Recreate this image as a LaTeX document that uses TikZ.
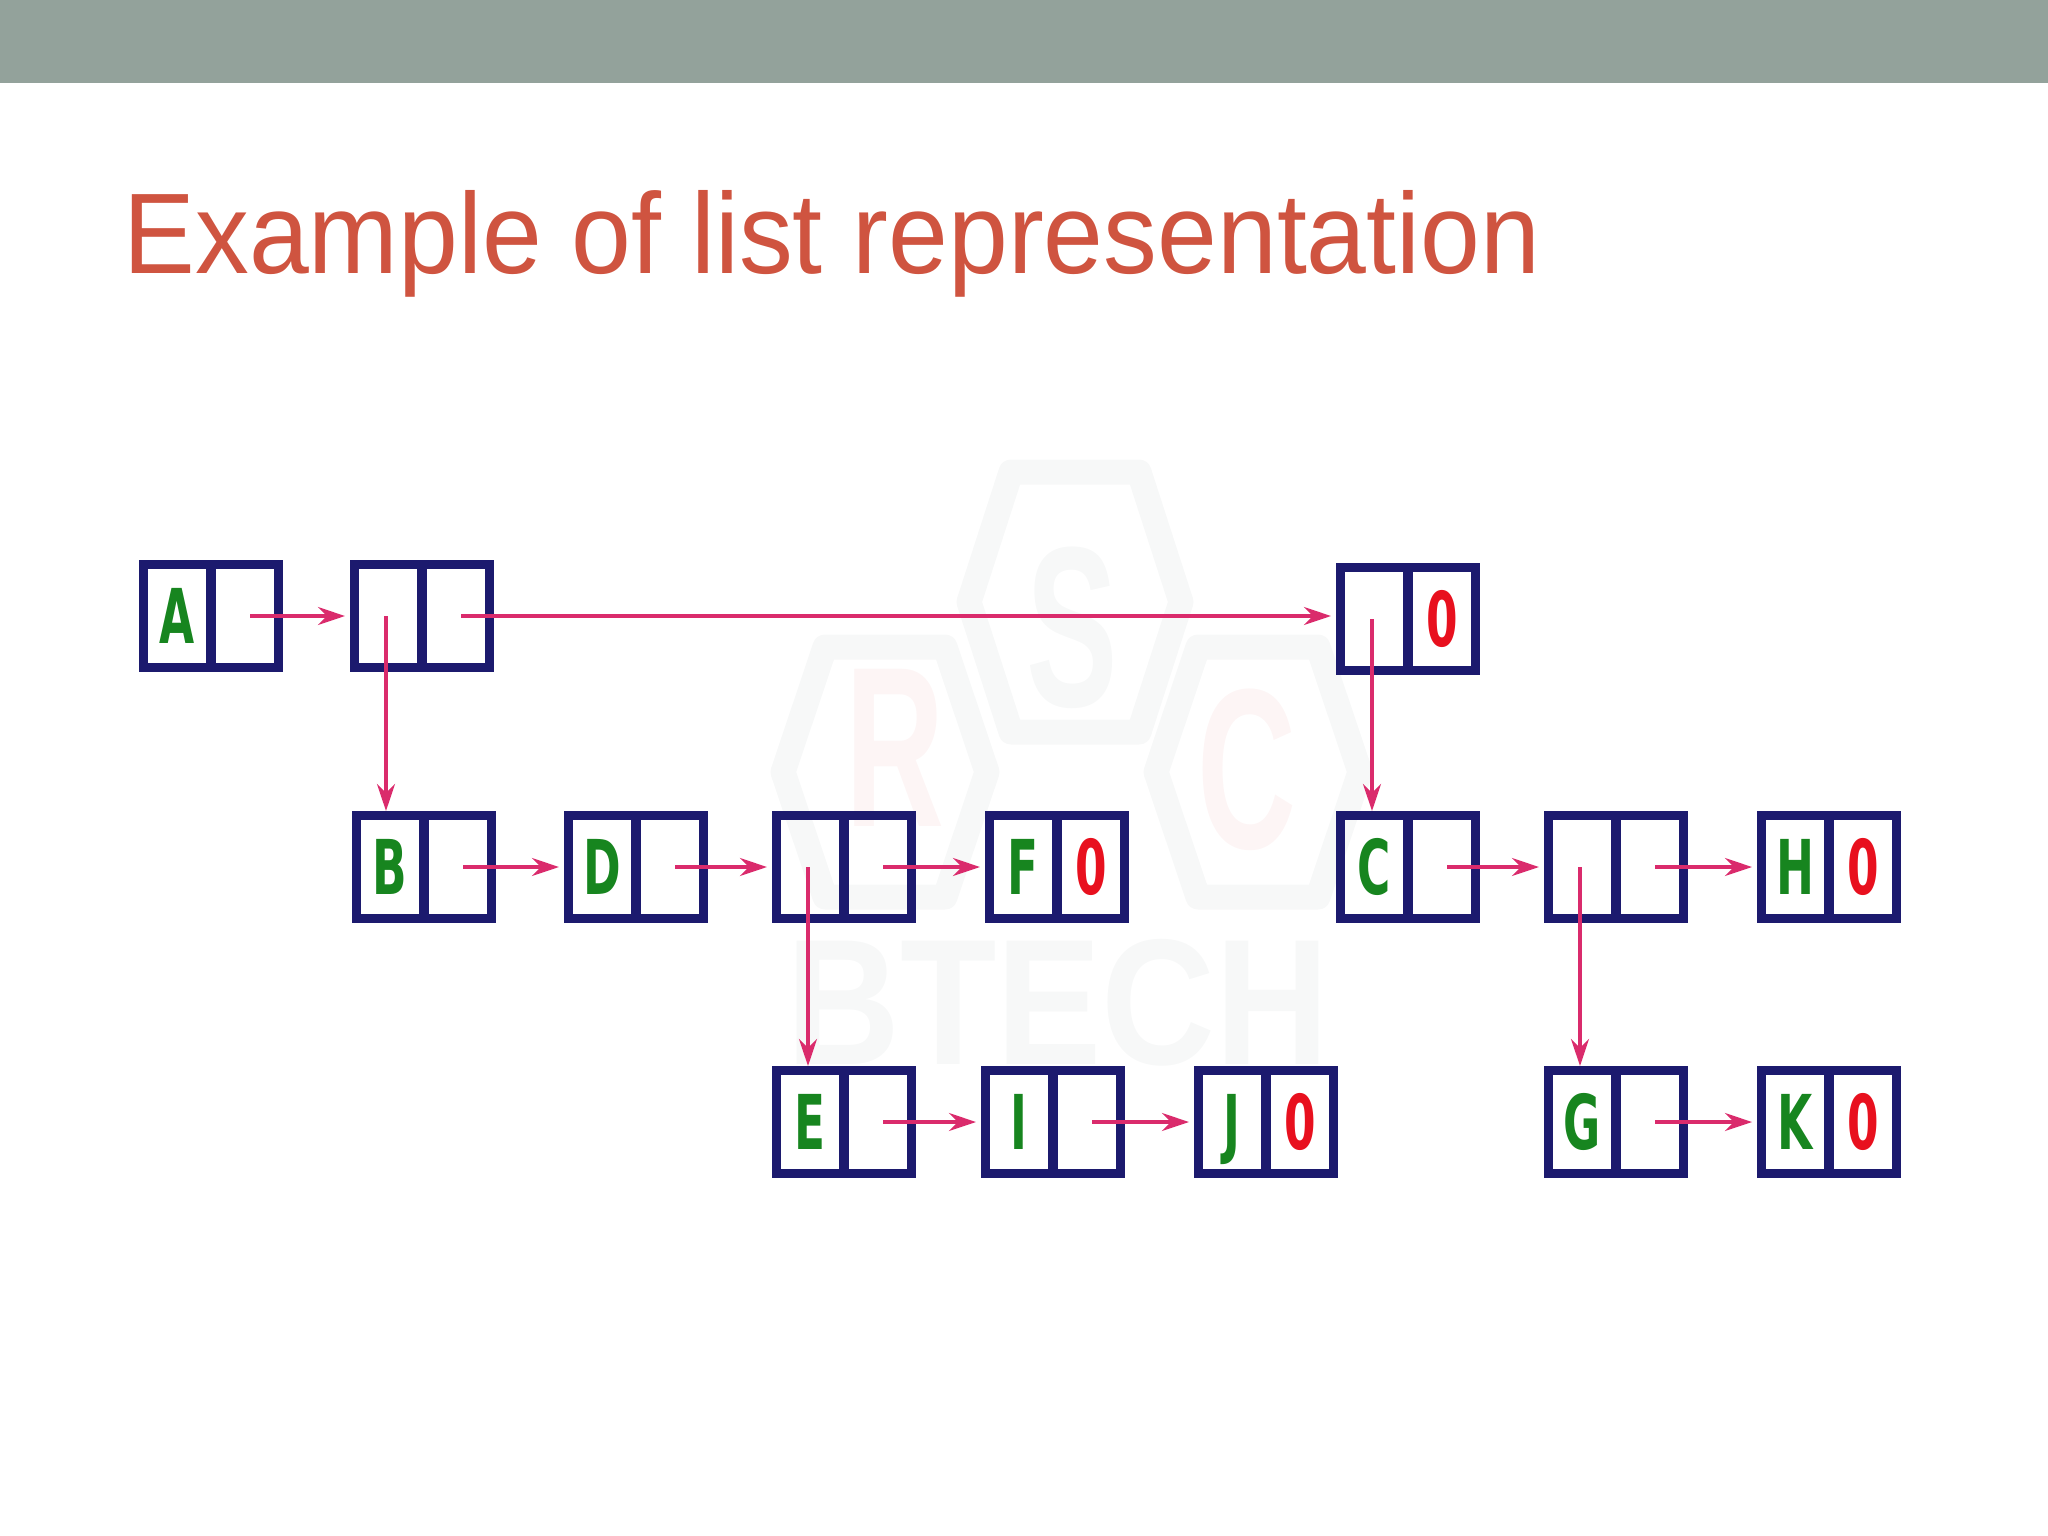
\documentclass[tikz,border=0pt]{standalone}
\usepackage{fontspec}
\usetikzlibrary{arrows.meta}
\setmainfont{Liberation Sans}
\newfontfamily\titlefont[FakeStretch=0.938]{Liberation Sans}
\newfontfamily\cellfont[FakeStretch=0.6]{DejaVu Sans}
\newfontfamily\markfont[FakeStretch=0.88]{Liberation Sans}
\newfontfamily\hexfont[FakeStretch=0.6]{Liberation Sans}
\definecolor{barcol}{HTML}{93A29B}
\definecolor{titlecol}{HTML}{CF5440}
\definecolor{boxcol}{HTML}{1C1A6E}
\definecolor{namecol}{HTML}{17851F}
\definecolor{nullcol}{HTML}{E8101E}
\definecolor{linkcol}{HTML}{DA2B6C}
\definecolor{markcol}{HTML}{F7F8F8}
\definecolor{markpink}{HTML}{FDF5F5}
\tikzset{
    cell/.style={draw=boxcol, line width=0.09cm, rectangle, inner sep=0pt,
        minimum width=0.67cm, minimum height=1.03cm,
        text height=0.55cm, text depth=0pt,
        font=\cellfont\bfseries\fontsize{21.5pt}{24pt}\selectfont},
    namecell/.style={cell, text=namecol},
    nullcell/.style={cell, text=nullcol},
    link/.style={-{Stealth[length=0.27cm,width=0.18cm,inset=0.09cm]}, draw=linkcol,
        line width=0.035cm},
    nextlink/.style={link, shorten <=0.05cm, shorten >=0.05cm},
    hexmark/.style={draw=markcol, line width=0.25cm, line join=round},
    hexletter/.style={inner sep=0pt, text=markcol,
        font=\hexfont\bfseries\fontsize{65pt}{70pt}\selectfont},
    bigmark/.style={inner sep=0pt, text=markcol,
        font=\markfont\bfseries\fontsize{51pt}{56pt}\selectfont}
}
\begin{document}
\begin{tikzpicture}[x=0.01cm, y=-0.01cm]
    \useasboundingbox (0,0) rectangle (2048,1536);
    \node[fill=barcol, inner sep=0pt, anchor=north west, minimum width=20.52cm, minimum height=0.84cm] (bar) at (-2,-2) {};
    \node[anchor=base west, inner sep=0pt, text=titlecol, font=\titlefont\fontsize{32.6pt}{36pt}\selectfont] (title) at (123,273) {Example of list representation};
    % watermark
    \foreach \cx/\cy/\a/\b/\h in {1075/602/106/64/130, 885/772/102/60/125, 1258/772/102/60/125}
        \draw[hexmark] (\cx-\a,\cy) -- (\cx-\b,\cy-\h) -- (\cx+\b,\cy-\h) -- (\cx+\a,\cy)
            -- (\cx+\b,\cy+\h) -- (\cx-\b,\cy+\h) -- cycle;
    \node[hexletter] (markS) at (1072,628) {S};
    \node[hexletter, text=markpink] (markR) at (895,748) {R};
    \node[hexletter, text=markpink] (markC) at (1247,770) {C};
    \node[bigmark] (markB) at (1058,1003) {BTECH};
    % list cells
    \foreach \n/\x/\y/\a/\b in {A/177/616/A/, P/388/616//, Q/1374/619//0,
        B/390/867/B/, D/602/867/D/, U/810/867//, F/1023/867/F/0,
        C/1374/867/C/, V/1582/867//, H/1795/867/H/0,
        E/810/1122/E/, I/1019/1122/I/, J/1232/1122/J/0,
        G/1582/1122/G/, K/1795/1122/K/0} {
        \node[namecell] (\n-l) at (\x,\y) {\a};
        \node[nullcell] (\n-r) at (\x+68,\y) {\b};
    }
    % next links
    \foreach \s/\t in {A/P, B/D, D/U, U/F, C/V, V/H, E/I, I/J, G/K}
        \draw[nextlink] (\s-r.center) -- (\t-l.west);
    \draw[nextlink] (P-r.center) -- (P-r.center -| Q-l.west);
    % down links
    \foreach \s/\t in {P/B, Q/C, U/E, V/G}
        \draw[link] ([xshift=-0.02cm]\s-l.center) -- ([xshift=-0.02cm]\s-l.center |- \t-l.north);
\end{tikzpicture}
\end{document}
